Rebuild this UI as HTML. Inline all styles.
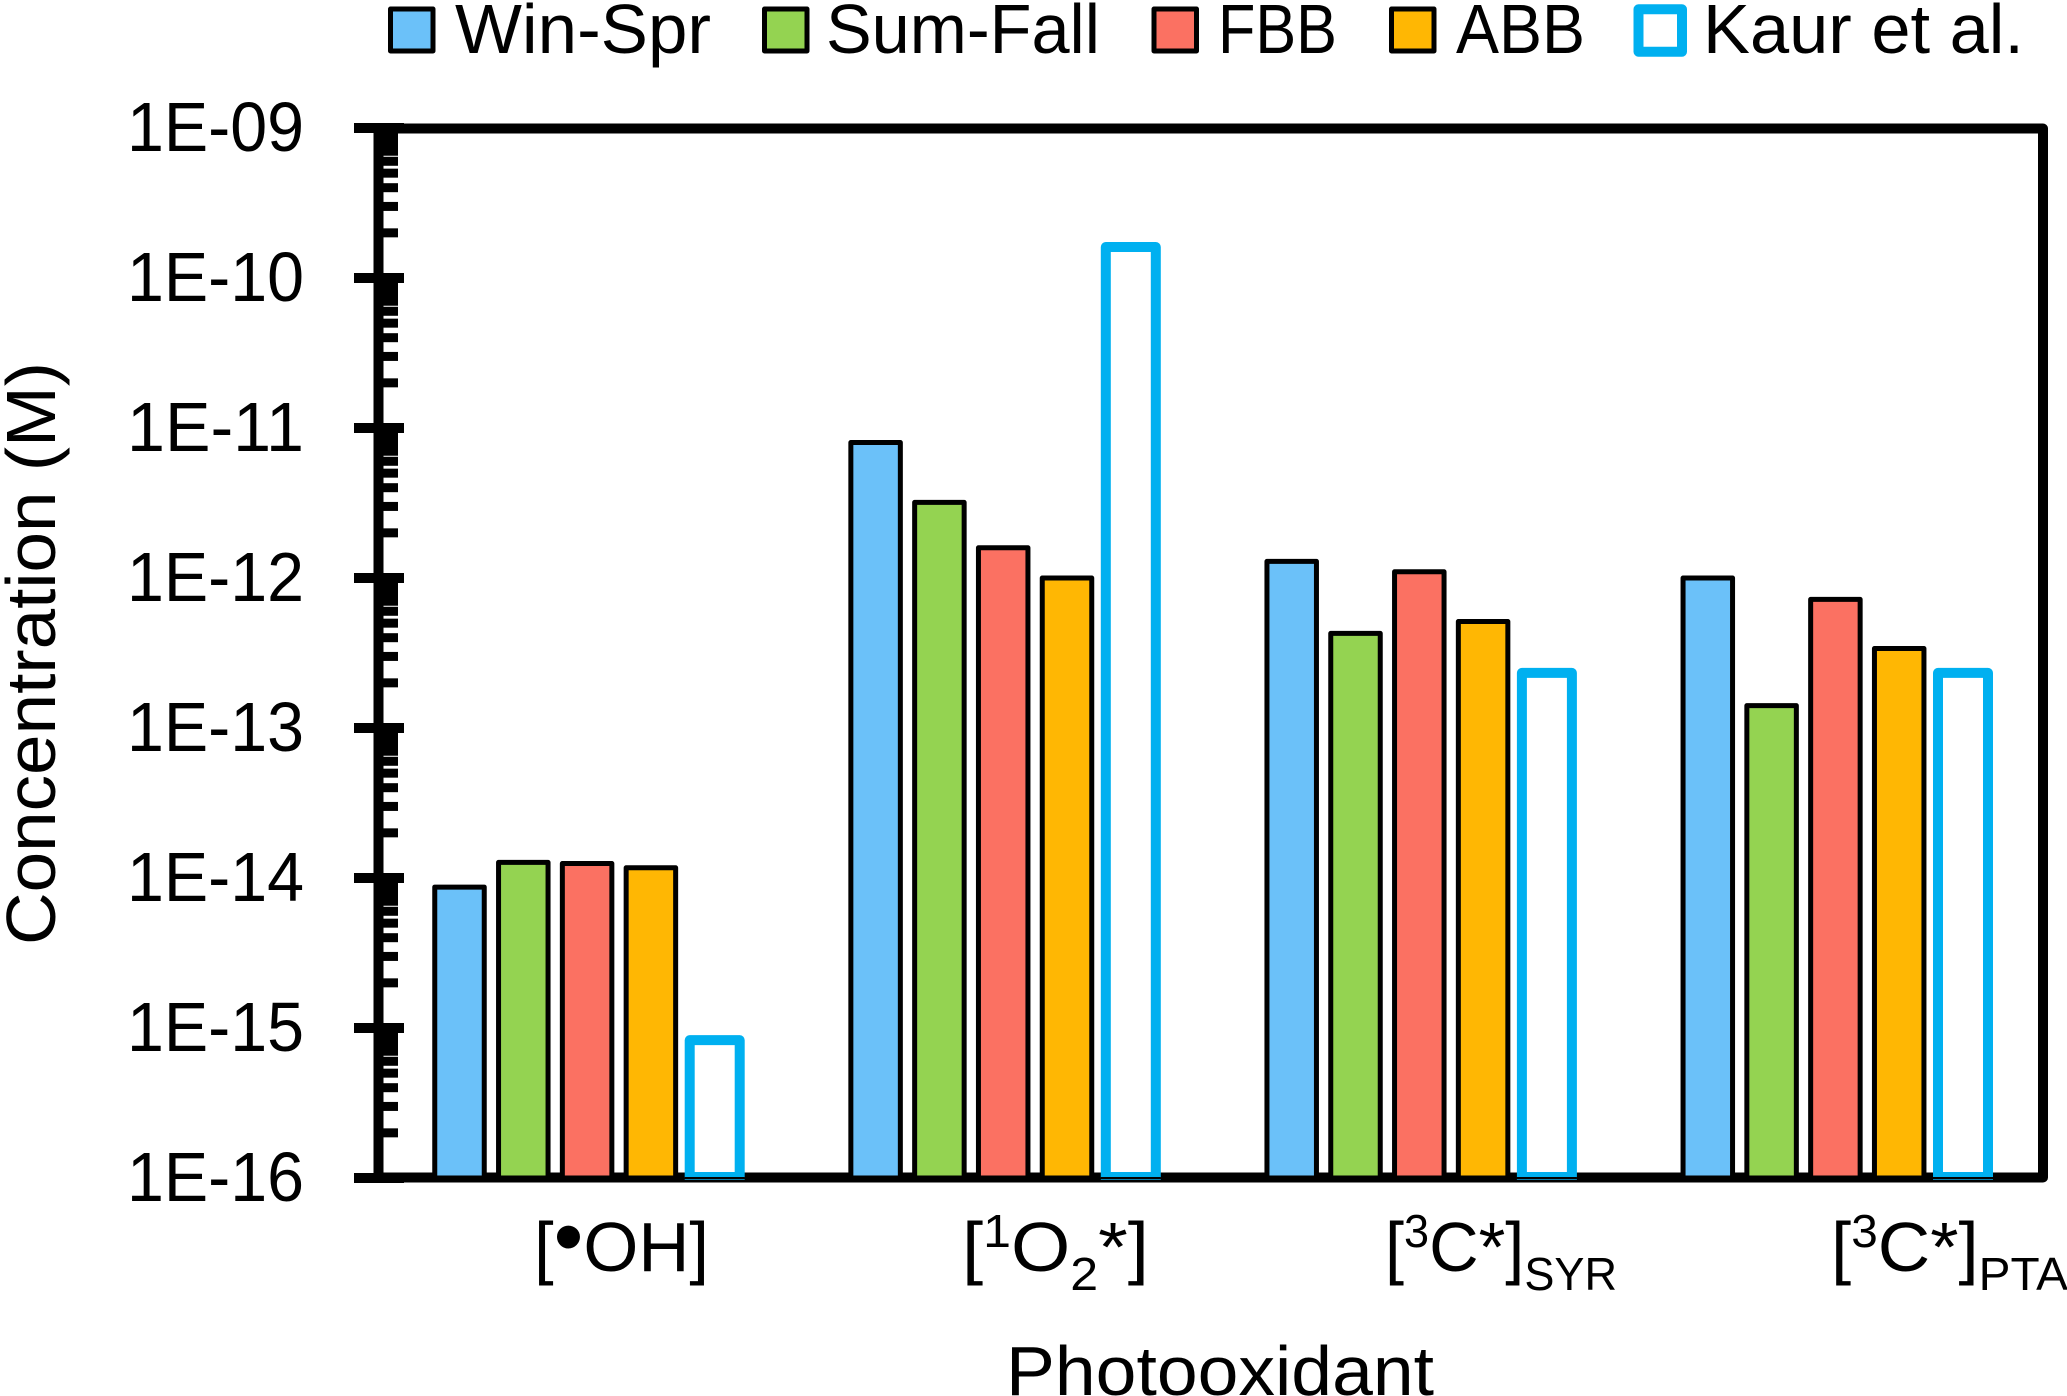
<!DOCTYPE html>
<html lang="en">
<head>
<meta charset="utf-8">
<title>Photooxidant concentrations</title>
<style>
  html, body { margin: 0; padding: 0; background: #fff; }
  svg { display: block; }
  text { font-family: "Liberation Sans", sans-serif; fill: #000; }
</style>
</head>
<body>
<svg id="chart" xmlns="http://www.w3.org/2000/svg" width="2067" height="1396" viewBox="0 0 2067 1396">
  <rect width="2067" height="1396" fill="#fff"/>

  <g id="legend">
    <g>
      <rect x="390.5" y="9" width="42.5" height="42" fill="#6BC1F9" stroke="#000" stroke-width="5" stroke-linejoin="round"/>
      <text x="455" y="53" font-size="70" textLength="256" lengthAdjust="spacingAndGlyphs">Win-Spr</text>
    </g>
    <g>
      <rect x="764.5" y="9" width="42.5" height="42" fill="#94D351" stroke="#000" stroke-width="5" stroke-linejoin="round"/>
      <text x="826" y="53" font-size="70" textLength="274" lengthAdjust="spacingAndGlyphs">Sum-Fall</text>
    </g>
    <g>
      <rect x="1154" y="9" width="42.5" height="42" fill="#FB7162" stroke="#000" stroke-width="5" stroke-linejoin="round"/>
      <text x="1218" y="53" font-size="70" textLength="119" lengthAdjust="spacingAndGlyphs">FBB</text>
    </g>
    <g>
      <rect x="1391.5" y="9" width="42.5" height="42" fill="#FFB703" stroke="#000" stroke-width="5" stroke-linejoin="round"/>
      <text x="1456" y="53" font-size="70" textLength="129" lengthAdjust="spacingAndGlyphs">ABB</text>
    </g>
    <g>
      <rect x="1638.5" y="9.3" width="43.5" height="42.4" fill="#fff" stroke="#00B0F0" stroke-width="10" stroke-linejoin="round"/>
      <text x="1703" y="53" font-size="70" textLength="321" lengthAdjust="spacingAndGlyphs">Kaur et al.</text>
    </g>
  </g>

  <g id="y-axis"></g>
  <rect x="378.5" y="128.5" width="1664.5" height="1049" fill="none" stroke="#000" stroke-width="10" stroke-linejoin="round"/>
  <g id="bars"></g>
  <g id="x-axis"></g>

  <text transform="translate(55 945) rotate(-90)" font-size="70" textLength="583" lengthAdjust="spacingAndGlyphs">Concentration (M)</text>
  <text x="1006" y="1395" font-size="70" textLength="428" lengthAdjust="spacingAndGlyphs">Photooxidant</text>
</svg>

<script>
const categories = ['[•OH]', '[1O2*]', '[3C*]SYR', '[3C*]PTA'];
const seriesNames = ['Win-Spr', 'Sum-Fall', 'FBB', 'ABB', 'Kaur et al.'];
const winSpr = [8.7e-15, 8.0e-12, 1.29e-12, 1.0e-12];
const sumFall = [1.27e-14, 3.19e-12, 4.27e-13, 1.41e-13];
const fbb = [1.25e-14, 1.59e-12, 1.1e-12, 7.2e-13];
const abb = [1.17e-14, 1.0e-12, 5.13e-13, 3.39e-13];
const kaur = [8.3e-16, 1.61e-10, 2.33e-13, 2.33e-13];
const yTickExponents = [-9, -10, -11, -12, -13, -14, -15, -16];
const yTickLabels = ['1E-09', '1E-10', '1E-11', '1E-12', '1E-13', '1E-14', '1E-15', '1E-16'];

const NS = 'http://www.w3.org/2000/svg';
const allSeries = [winSpr, sumFall, fbb, abb, kaur];
const fills = ['#6BC1F9', '#94D351', '#FB7162', '#FFB703', '#fff'];

function yScale(v) { return 1178 - 150 * (Math.log10(v) + 16); }
function xScale(groupIndex, seriesIndex) { return 378.5 + 81 + 416.1 * groupIndex + 63.8 * seriesIndex; }
function make(tag, attrs, parent) {
  const el = document.createElementNS(NS, tag);
  for (const k in attrs) el.setAttribute(k, attrs[k]);
  parent.appendChild(el);
  return el;
}

/* y axis: ticks and labels */
const yAxis = document.getElementById('y-axis');
yTickExponents.forEach(function (exp, i) {
  const y = yScale(Math.pow(10, exp));
  const tick = make('rect', { x: 354, y: y - 5, width: 50, height: 10, fill: '#000' }, yAxis);
  
  
  const label = make('text', { x: 127, y: y + 23, 'font-size': 70, textLength: 177, lengthAdjust: 'spacingAndGlyphs' }, yAxis);
  
  
  label.textContent = yTickLabels[i];
  if (exp > -16) {
    for (let m = 2; m <= 9; m++) {
      const ym = yScale(m * Math.pow(10, exp - 1));
      const minor = make('rect', { x: 383, y: ym - 4.5, width: 15, height: 9, fill: '#000' }, yAxis);
      
      
    }
  }
});

/* bars */
const barsLayer = document.getElementById('bars');
const barBase = yScale(1e-16);
allSeries.forEach(function (values, s) {
  values.forEach(function (v, g) {
    const cx = xScale(g, s);
    const top = yScale(v);
    if (s < 4) {
      const bar = make('rect', { x: cx - 24.75, y: top, width: 49.5, height: barBase - top, fill: fills[s], stroke: '#000', 'stroke-width': 5, 'stroke-linejoin': 'round' }, barsLayer);
      
      
    } else {
      const bar = make('rect', { x: cx - 25, y: top, width: 50, height: barBase - 1 - top, fill: '#fff', stroke: '#00B0F0', 'stroke-width': 10, 'stroke-linejoin': 'round' }, barsLayer);
      
      
      const cover = make('rect', { x: cx - 30, y: barBase - 1, width: 60, height: 5.5, fill: '#000' }, barsLayer);
      
      
      const sliver = make('rect', { x: cx - 30, y: barBase + 1, width: 60, height: 1, fill: '#0F7CA8' }, barsLayer);
      
      
    }
  });
});

/* category labels: superscripts, subscripts and the radical dot are set as tspans */
const xAxis = document.getElementById('x-axis');
const labelSpans = [[534, 175], [962, 187], [1385, 232], [1831, 237]];
function addSpan(parent, str, size, dy) {
  const t = make('tspan', { 'font-size': size, dy: dy }, parent);
  t.textContent = str;
}
categories.forEach(function (cat, i) {
  const label = make('text', { x: labelSpans[i][0], y: 1271, 'font-size': 70, textLength: labelSpans[i][1], lengthAdjust: 'spacingAndGlyphs' }, xAxis);
  
  
  const m = cat.match(/^\[([•\d]?)([A-Z]+)(\d?)(\*?)\](\w*)$/);
  addSpan(label, '[', 70, 0);
  let shift = 0;
  if (m[1] === '•') { addSpan(label, '•', 84, -6); shift = -6; }
  else if (m[1]) { addSpan(label, m[1], 46, -24); shift = -24; }
  addSpan(label, m[2], 70, -shift);
  shift = 0;
  if (m[3]) { addSpan(label, m[3], 46, 19); shift = 19; }
  addSpan(label, m[4] + ']', 70, -shift);
  if (m[5]) addSpan(label, m[5], 46, 19);
});
</script>
</body>
</html>
